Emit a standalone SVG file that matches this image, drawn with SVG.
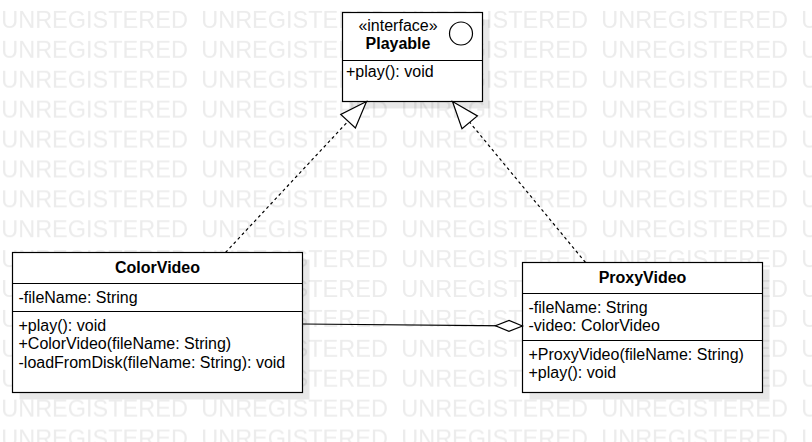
<svg xmlns="http://www.w3.org/2000/svg" width="812" height="442" viewBox="0 0 812 442">
<style>
text{font-family:"Liberation Sans",Arial,sans-serif;font-size:16px;fill:#000}
.b{font-weight:bold}
.m{text-anchor:middle}
.box{fill:#fff;stroke:#000;stroke-width:1.2}
.sh{fill:#000;fill-opacity:0.09}
.dv{stroke:#000;stroke-width:1.2}
.wm{font-size:23.5px;fill:#ececec}
.dash{fill:none;stroke:#000;stroke-width:1.2;stroke-dasharray:3 3}
.solid{fill:none;stroke:#000;stroke-width:1.2}
.head{fill:#fff;stroke:#000;stroke-width:1.2}
</style>
<defs>
<pattern id="wmp" x="0" y="0" width="200" height="29.9" patternUnits="userSpaceOnUse">
<text class="wm" x="1.2" y="28.2">UNREGISTERED</text>
</pattern>
<marker id="tri" markerUnits="userSpaceOnUse" markerWidth="40" markerHeight="40" refX="0" refY="0" orient="auto" overflow="visible">
<path class="head" d="M0,0 L-27,-10 L-27,10 Z"/>
</marker>
<marker id="dia" markerUnits="userSpaceOnUse" markerWidth="40" markerHeight="40" refX="0" refY="0" orient="auto" overflow="visible">
<path class="head" d="M0,0 L-13.5,-5.5 L-27,0 L-13.5,5.5 Z"/>
</marker>
</defs>
<rect width="812" height="442" fill="#fff"/>
<rect width="812" height="442" fill="url(#wmp)"/>

<g id="Playable">
<rect class="sh" x="349.5" y="19.5" width="140" height="89"/>
<rect class="box" x="342.5" y="12.5" width="140" height="89"/>
<line class="dv" x1="342.5" y1="60.5" x2="482.5" y2="60.5"/>
<circle cx="461" cy="33.5" r="11.5" fill="#fff" stroke="#000" stroke-width="1.2"/>
<text class="m" x="398" y="30.5">«interface»</text>
<text class="m b" x="398" y="48.5">Playable</text>
<text x="346" y="77">+play(): void</text>
</g>

<g id="ColorVideo">
<rect class="sh" x="19.5" y="259.5" width="290" height="140"/>
<rect class="box" x="12.5" y="252.5" width="290" height="140"/>
<line class="dv" x1="12.5" y1="283.5" x2="302.5" y2="283.5"/>
<line class="dv" x1="12.5" y1="311.5" x2="302.5" y2="311.5"/>
<text class="m b" x="157.5" y="272.5">ColorVideo</text>
<text x="18.5" y="302.5">-fileName: String</text>
<text x="18.5" y="330.5">+play(): void</text>
<text x="18.5" y="349">+ColorVideo(fileName: String)</text>
<text x="18.5" y="367.5">-loadFromDisk(fileName: String): void</text>
</g>

<g id="ProxyVideo">
<rect class="sh" x="529.5" y="269.5" width="240" height="130"/>
<rect class="box" x="522.5" y="262.5" width="240" height="130"/>
<line class="dv" x1="522.5" y1="293.5" x2="762.5" y2="293.5"/>
<line class="dv" x1="522.5" y1="340.5" x2="762.5" y2="340.5"/>
<text class="m b" x="642.5" y="282.5">ProxyVideo</text>
<text x="528.5" y="312.5">-fileName: String</text>
<text x="528.5" y="331">-video: ColorVideo</text>
<text x="528.5" y="359.5">+ProxyVideo(fileName: String)</text>
<text x="528.5" y="378">+play(): void</text>
</g>

<g id="connectors">
<path class="dash" d="M225.5,252.5 L366.5,101.5" marker-end="url(#tri)"/>
<path class="dash" d="M585.5,262.5 L452.5,101.5" marker-end="url(#tri)"/>
<path class="solid" d="M302.5,324 L522.5,326" marker-end="url(#dia)"/>
</g>
</svg>
